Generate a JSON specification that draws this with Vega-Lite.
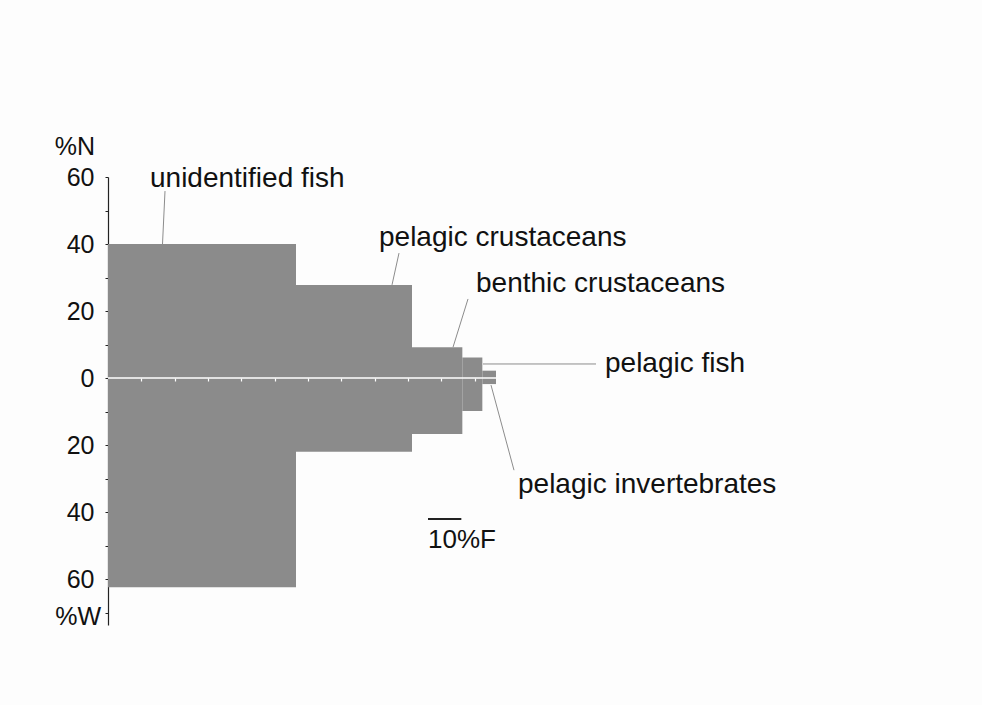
{
  "$schema": "https://vega.github.io/schema/vega-lite/v6.json",
  "width": 500,
  "height": 448,
  "autosize": {"type": "none"},
  "padding": {"left": 108, "top": 177, "right": 374, "bottom": 80},
  "background": "#fdfdfd",
  "config": {"view": {"stroke": null}, "font": "Liberation Sans"},
  "resolve": {"axis": {"x": "independent", "y": "independent"}},
  "datasets": {
    "prey": [
      {"prey": "unidentified fish", "F_start": 0, "F_end": 56.4, "N": 40, "W_down": -62.4},
      {"prey": "pelagic crustaceans", "F_start": 56.4, "F_end": 91.2, "N": 27.8, "W_down": -22.0},
      {"prey": "benthic crustaceans", "F_start": 91.2, "F_end": 106.3, "N": 9.2, "W_down": -16.7},
      {"prey": "pelagic fish", "F_start": 106.3, "F_end": 112.3, "N": 6.1, "W_down": -9.8},
      {"prey": "pelagic invertebrates", "F_start": 112.3, "F_end": 116.4, "N": 2.2, "W_down": -1.8}
    ],
    "zeroline": [
      {"F_start": 0, "F_end": 116.4, "level": 0}
    ],
    "labels": [
      {"text": "unidentified fish", "x": 12.6, "y": 57.0, "lx1": 17.1, "ly1": 55.8, "lx2": 16.35, "ly2": 40},
      {"text": "pelagic crustaceans", "x": 81.3, "y": 39.5, "lx1": 87.3, "ly1": 37.3, "lx2": 85.2, "ly2": 27.8},
      {"text": "benthic crustaceans", "x": 110.4, "y": 25.6, "lx1": 108.0, "ly1": 23.6, "lx2": 103.5, "ly2": 9.2},
      {"text": "pelagic fish", "x": 149.1, "y": 1.8, "lx1": 112.5, "ly1": 4.2, "lx2": 146.4, "ly2": 4.2},
      {"text": "pelagic invertebrates", "x": 123.0, "y": -34.4, "lx1": 114.9, "ly1": -2.1, "lx2": 121.8, "ly2": -27.5}
    ],
    "axislabels": [
      {"text": "%N", "x": -3.9, "y": 66.6},
      {"text": "%W", "x": -2.1, "y": -73.7}
    ],
    "scalebar": [
      {"text": "10%F", "x": 96, "x_end": 106, "bar_y": -42.1, "y": -50.6}
    ]
  },
  "layer": [
    {
      "data": {"name": "prey"},
      "mark": {"type": "rect", "color": "#8b8b8b"},
      "encoding": {
        "x": {
          "field": "F_start", "type": "quantitative",
          "scale": {"domain": [0, 150], "nice": false, "zero": false},
          "axis": {"values": [10, 20, 30, 40, 50, 60, 70, 80, 90, 100, 110], "labels": false, "domain": false, "grid": false, "tickColor": "#ffffff", "tickSize": 3, "tickWidth": 1.2, "offset": -247, "zindex": 2, "title": null}
        },
        "x2": {"field": "F_end"},
        "y": {
          "field": "N", "type": "quantitative",
          "scale": {"domain": [-73.7, 60], "nice": false, "zero": false},
          "axis": {
            "values": [-70, -60, -50, -40, -30, -20, -10, 0, 10, 20, 30, 40, 50, 60],
            "labelExpr": "(datum.value / 20) == round(datum.value / 20) ? '' + abs(datum.value) : ''",
            "labelOverlap": false,
            "tickSize": 3, "tickColor": "#222222", "domainColor": "#222222", "domainWidth": 1.2,
            "labelFontSize": 25, "labelColor": "#111111", "labelPadding": 11, "labelFont": "Liberation Sans",
            "grid": false, "title": null
          }
        },
        "y2": {"field": "W_down"}
      }
    },
    {
      "data": {"name": "zeroline"},
      "mark": {"type": "rule", "color": "#ffffff", "strokeWidth": 1.6},
      "encoding": {
        "x": {"field": "F_start", "type": "quantitative", "axis": null},
        "x2": {"field": "F_end"},
        "y": {"field": "level", "type": "quantitative", "axis": null}
      }
    },
    {
      "data": {"name": "labels"},
      "mark": {"type": "rule", "color": "#8c8c8c", "strokeWidth": 1},
      "encoding": {
        "x": {"field": "lx1", "type": "quantitative", "axis": null},
        "x2": {"field": "lx2"},
        "y": {"field": "ly1", "type": "quantitative", "axis": null},
        "y2": {"field": "ly2"}
      }
    },
    {
      "data": {"name": "labels"},
      "mark": {"type": "text", "align": "left", "baseline": "alphabetic", "fontSize": 28, "color": "#111111", "font": "Liberation Sans"},
      "encoding": {
        "x": {"field": "x", "type": "quantitative", "axis": null},
        "y": {"field": "y", "type": "quantitative", "axis": null},
        "text": {"field": "text"}
      }
    },
    {
      "data": {"name": "axislabels"},
      "mark": {"type": "text", "align": "right", "baseline": "alphabetic", "fontSize": 25, "color": "#111111", "font": "Liberation Sans"},
      "encoding": {
        "x": {"field": "x", "type": "quantitative", "axis": null},
        "y": {"field": "y", "type": "quantitative", "axis": null},
        "text": {"field": "text"}
      }
    },
    {
      "data": {"name": "scalebar"},
      "mark": {"type": "rule", "color": "#222222", "strokeWidth": 2},
      "encoding": {
        "x": {"field": "x", "type": "quantitative", "axis": null},
        "x2": {"field": "x_end"},
        "y": {"field": "bar_y", "type": "quantitative", "axis": null}
      }
    },
    {
      "data": {"name": "scalebar"},
      "mark": {"type": "text", "align": "left", "baseline": "alphabetic", "fontSize": 26, "color": "#111111", "font": "Liberation Sans"},
      "encoding": {
        "x": {"field": "x", "type": "quantitative", "axis": null},
        "y": {"field": "y", "type": "quantitative", "axis": null},
        "text": {"field": "text"}
      }
    }
  ]
}
